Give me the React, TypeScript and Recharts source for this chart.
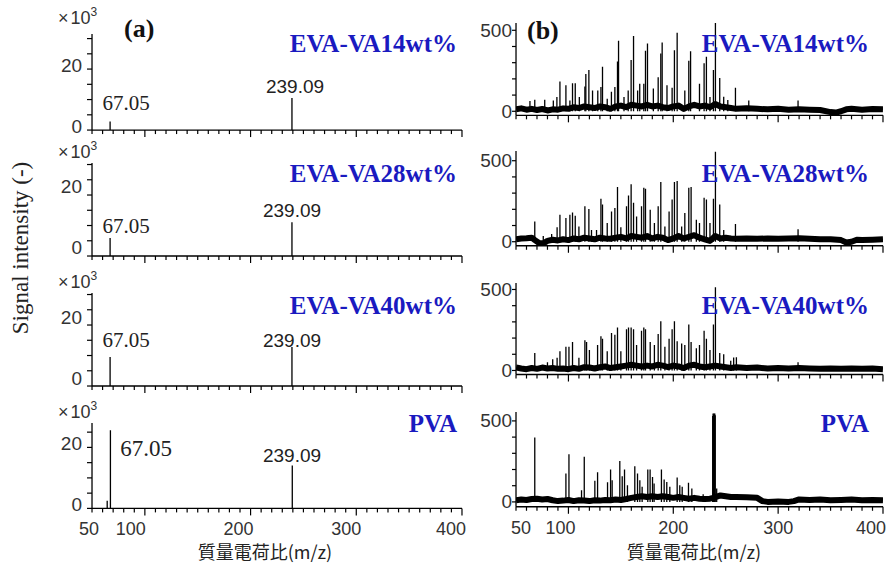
import React from 'react';
import { ComposedChart, Bar, Line, XAxis, YAxis } from 'recharts';

// ---------------- DATA ----------------
const xTicks = [50, 60, 70, 80, 90, 100, 110, 120, 130, 140, 150, 160, 170, 180, 190, 200, 210, 220, 230, 240, 250, 260, 270, 280, 290, 300, 310, 320, 330, 340, 350, 360, 370, 380, 390, 400];
const xLabelTicks = [50, 100, 200, 300, 400];
const aYTicks = [0, 5, 10, 15, 20, 25, 30];
const aYLabelTicks = [0, 20];
const bYTicks = [0, 100, 200, 300, 400, 500];
const bYLabelTicks = [0, 500];

const sampleNames = ['EVA-VA14wt%', 'EVA-VA28wt%', 'EVA-VA40wt%', 'PVA'];
const peakLabels = ['67.05', '239.09'];

// (a) intensities in 10^3
const aPeaksVA14: [number, number][] = [[67.05, 2.8], [239.09, 10.5]];
const aPeaksVA28: [number, number][] = [[67.05, 5.9], [239.09, 11.1]];
const aPeaksVA40: [number, number][] = [[67.05, 9.5], [239.09, 12.8]];
const aPeaksPVA: [number, number][] = [[64.0, 2.5], [67.05, 25.6], [239.09, 14.1]];

// (b) peaks (m/z, intensity)
const bPeaksVA14: [number, number][] = [
  [63.3, 63], [67.9, 71], [77.4, 71], [85.6, 67], [89.0, 88], [91.9, 184], [97.6, 160], [101.4, 67], [103.9, 173], [106.5, 173],
  [110.4, 88], [115.7, 153], [116.6, 230], [119.5, 255], [123.0, 128], [128.0, 128], [131.0, 150], [132.5, 275], [137.0, 78], [141.0, 120],
  [144.3, 150], [146.8, 308], [147.8, 435], [153.0, 88], [157.0, 128], [159.8, 316], [162.1, 465], [166.0, 128], [168.0, 170], [171.9, 170],
  [173.5, 373], [175.4, 418], [181.0, 140], [185.6, 210], [188.1, 357], [189.4, 424], [194.0, 160], [198.9, 145], [201.1, 377], [203.7, 485],
  [211.0, 128], [214.8, 312], [216.5, 370], [225.0, 170], [229.4, 296], [231.6, 337], [235.0, 88], [238.3, 255], [240.2, 550], [244.3, 206],
  [248.1, 90], [252.0, 70], [259.3, 145], [272.0, 67], [319.0, 67],
];
const bPeaksVA28: [number, number][] = [
  [67.9, 125], [76.0, 35], [84.0, 48], [89.2, 90], [91.9, 167], [97.6, 146], [101.4, 167], [103.9, 181], [106.5, 160], [110.0, 94],
  [115.7, 219], [119.5, 202], [122.0, 73], [126.8, 73], [131.0, 265], [132.5, 229], [137.0, 115], [141.1, 187], [144.3, 208], [146.8, 337],
  [150.0, 90], [155.4, 219], [157.3, 285], [159.8, 354], [162.1, 240], [165.0, 156], [169.7, 219], [171.9, 333], [173.5, 327], [178.0, 198],
  [182.0, 115], [185.6, 219], [188.1, 369], [192.0, 94], [196.0, 187], [198.9, 260], [201.1, 369], [203.7, 375], [208.0, 94], [211.0, 177],
  [214.8, 333], [217.0, 337], [222.0, 135], [225.0, 115], [229.4, 271], [231.6, 260], [235.0, 115], [238.3, 265], [240.2, 556], [244.3, 229],
  [248.1, 73], [259.3, 110], [319.0, 77],
];
const bPeaksVA40: [number, number][] = [
  [67.9, 108], [80.0, 50], [85.0, 70], [89.2, 78], [91.9, 118], [97.6, 147], [100.5, 147], [103.9, 176], [110.0, 78], [115.7, 186],
  [117.3, 176], [120.0, 127], [127.8, 157], [131.0, 212], [132.5, 196], [137.0, 118], [141.1, 231], [144.3, 220], [146.8, 265], [150.0, 118],
  [155.4, 255], [157.3, 265], [159.8, 265], [162.1, 255], [165.0, 157], [169.7, 245], [171.9, 265], [173.5, 255], [178.0, 176], [182.0, 157],
  [185.6, 225], [188.1, 304], [192.0, 147], [196.0, 196], [198.9, 255], [201.1, 304], [203.7, 180], [208.0, 167], [211.0, 157], [214.8, 284],
  [217.0, 176], [222.0, 137], [225.0, 157], [229.4, 245], [231.6, 196], [235.0, 127], [238.3, 284], [240.2, 514], [244.3, 108], [248.1, 100],
  [254.8, 60], [257.6, 80], [260.2, 82], [319.0, 50],
];
const bPeaksPVA: [number, number][] = [
  [67.9, 397], [97.6, 175], [100.5, 294], [112.5, 72], [115.1, 278], [125.2, 130], [127.8, 183], [137.3, 121], [140.2, 200], [141.7, 134],
  [149.0, 253], [151.3, 158], [153.5, 200], [156.3, 103], [163.3, 220], [165.9, 175], [168.1, 134], [170.3, 93], [175.7, 200], [177.9, 200],
  [180.2, 154], [181.7, 113], [188.7, 200], [191.3, 138], [193.8, 123], [196.7, 93], [203.7, 150], [206.2, 103], [208.5, 93], [214.5, 119],
  [217.7, 82], [228.5, 47], [237.6, 530], [238.0, 545], [238.4, 540], [238.8, 545], [239.2, 540], [239.6, 545], [240.0, 535], [241.4, 82],
  [320.0, 30],
];

// (b) noisy baseline band (m/z, level)
const bBaseVA14: [number, number][] = [
  [50, 12], [55, 18], [60, 10], [65, 15], [70, 8], [75, 14], [80, 5], [85, 12], [90, 10], [95, 18], [100, 15], [105, 25], [110, 20],
  [115, 30], [120, 25], [125, 20], [130, 30], [135, 25], [140, 15], [145, 30], [150, 35], [155, 25], [160, 40], [165, 35], [170, 30],
  [175, 40], [180, 30], [185, 35], [190, 25], [195, 20], [200, 30], [205, 35], [210, 15], [215, 30], [220, 40], [225, 30], [230, 35],
  [235, 25], [240, 45], [245, 30], [250, 25], [255, 20], [260, 15], [270, 18], [280, 15], [290, 12], [300, 15], [310, 10], [320, 12],
  [330, 10], [340, 8], [350, -5], [355, -8], [360, 0], [365, 12], [370, 15], [380, 10], [390, 14], [400, 12],
];
const bBaseVA28: [number, number][] = [
  [50, 15], [55, 20], [60, 22], [65, 25], [68, 10], [72, -8], [76, -10], [80, 5], [85, 12], [90, 8], [95, 15], [100, 10], [105, 20],
  [110, 15], [115, 25], [120, 20], [125, 15], [130, 25], [135, 20], [140, 18], [145, 25], [150, 30], [155, 20], [160, 35], [165, 30],
  [170, 25], [175, 35], [180, 20], [185, 30], [190, 25], [195, 10], [200, 20], [205, 35], [210, 20], [215, 30], [220, 40], [225, 25],
  [230, 15], [235, 5], [240, 35], [245, 20], [250, 25], [255, 20], [260, 18], [270, 20], [280, 18], [290, 20], [300, 18], [310, 20],
  [320, 22], [330, 18], [340, 15], [350, 15], [360, 10], [365, -5], [370, 0], [375, 12], [380, 10], [390, 12], [400, 15],
];
const bBaseVA40: [number, number][] = [
  [50, 18], [55, 12], [60, 8], [65, 15], [70, 10], [75, 18], [80, 12], [85, 15], [90, 10], [95, 12], [100, 8], [105, 15], [110, 10],
  [115, 20], [120, 18], [125, 12], [130, 20], [135, 25], [140, 15], [145, 20], [150, 25], [155, 30], [160, 35], [165, 30], [170, 25],
  [175, 30], [180, 25], [185, 35], [190, 30], [195, 20], [200, 30], [205, 25], [210, 15], [215, 30], [220, 35], [225, 25], [230, 20],
  [235, 25], [240, 30], [245, 25], [250, 20], [255, 15], [260, 20], [270, 15], [280, 18], [290, 12], [300, 15], [310, 12], [320, 15],
  [330, 12], [340, 10], [350, 12], [360, 10], [370, 12], [380, 10], [390, 12], [400, 8],
];
const bBasePVA: [number, number][] = [
  [50, 10], [55, 15], [60, 12], [65, 18], [70, 20], [75, 15], [80, 18], [85, 10], [90, 5], [95, 8], [100, 12], [105, 5], [110, 10],
  [115, 8], [120, 5], [125, 10], [130, 8], [135, 12], [140, 10], [145, 15], [150, 12], [155, 18], [160, 25], [165, 30], [170, 35],
  [175, 30], [180, 35], [185, 30], [190, 35], [195, 30], [200, 25], [205, 30], [210, 25], [215, 20], [220, 25], [225, 20], [230, 18],
  [235, 20], [238, 25], [245, 40], [250, 35], [255, 30], [260, 30], [270, 28], [280, 25], [285, 5], [290, 0], [300, 2], [310, 0],
  [315, 5], [320, 15], [330, 12], [340, 15], [350, 10], [360, 12], [370, 15], [380, 10], [390, 12], [400, 10],
];

const aPeaks = [aPeaksVA14, aPeaksVA28, aPeaksVA40, aPeaksPVA];
const bPeaks = [bPeaksVA14, bPeaksVA28, bPeaksVA40, bPeaksPVA];
const bBases = [bBaseVA14, bBaseVA28, bBaseVA40, bBasePVA];

// ---------------- LAYOUT / STYLE ----------------
const BLUE = '#1a1ac0';
const TICK_FONT = "'Liberation Sans', Arial, sans-serif";
const SERIF = "'Liberation Serif', 'Times New Roman', serif";
const CJK = "'Noto Sans CJK JP', sans-serif";

const LEFT = { plotLeft: 92, plotW: 370, pxPerUnit: 3.05 };
const RIGHT = { plotLeft: 516, plotW: 367, pxPerUnit: 0.162 };
const leftRows = [
  { bottom: 130, ymax: 31.5, dy: -4 },
  { bottom: 256, ymax: 30.5, dy: -9 },
  { bottom: 386, ymax: 30.5, dy: -8 },
  { bottom: 508, ymax: 28, dy: -4 },
];
const rightRows = [
  { bottom: 115, ymin: -25, ymax: 545 },
  { bottom: 246, ymin: -25, ymax: 560 },
  { bottom: 375, ymin: -25, ymax: 540 },
  { bottom: 507, ymin: -30, ymax: 555 },
];
const leftXLabelDx: Record<number, number> = { 50: -3, 100: -14, 200: -12, 300: -10, 400: -11 };
const rightXLabelDx: Record<number, number> = { 50: 5, 100: -8, 200: 0, 300: 0, 400: -12 };

const Stick = (props: any) => {
  const { x, y, width, height } = props;
  if (height == null || !isFinite(height) || !isFinite(y) || Math.abs(height) < 0.05) return null;
  const cx = x + width / 2;
  return <line x1={cx} x2={cx} y1={y} y2={y + height} stroke="#000" strokeWidth={1.3} />;
};

const makeXTick = (showLabels: boolean, dxMap: Record<number, number>) => (props: any) => {
  const { x, y, payload } = props;
  const v = payload.value as number;
  const major = v % 100 === 0;
  const len = major ? 7 : 4;
  return (
    <g>
      <line x1={x} x2={x} y1={y} y2={y + len} stroke="#000" strokeWidth={1.2} />
      {showLabels && xLabelTicks.includes(v) && (
        <text x={x + (dxMap[v] || 0)} y={y + 21} textAnchor="middle" dominantBaseline="central"
          fontFamily={TICK_FONT} fontSize={18} fill="#333">{v}</text>
      )}
    </g>
  );
};

const makeYTick = (labels: number[], dy: number, len: number, gap: number) => (props: any) => {
  const { x, y, payload } = props;
  const v = payload.value as number;
  return (
    <g>
      <line x1={x - len} x2={x} y1={y} y2={y} stroke="#000" strokeWidth={1.2} />
      {labels.includes(v) && (
        <text x={x - gap} y={y + dy} textAnchor="end" dominantBaseline="central"
          fontFamily={TICK_FONT} fontSize={19} fill="#333">{v}</text>
      )}
    </g>
  );
};

function buildRows(peaks: [number, number][], base?: [number, number][]) {
  const rows: any[] = peaks.map(([mz, h]) => ({ mz, h }));
  if (base) base.forEach(([mz, b]) => rows.push({ mz, base: b }));
  rows.sort((p, q) => p.mz - q.mz);
  return rows;
}

const Y_AXIS_W = 50;
const X_AXIS_H = 40;
const TOP_PAD = 12;

function Panel(props: {
  rows: any[]; plotLeft: number; plotW: number; bottom: number; ymin: number; ymax: number; pxPerUnit: number;
  yTicks: number[]; yLabels: number[]; yLabelDy: number; yTickLen: number; yGap: number;
  showX: boolean; xDx: Record<number, number>; withBase: boolean;
}) {
  const { rows, plotLeft, plotW, bottom, ymin, ymax, pxPerUnit } = props;
  const plotH = (ymax - ymin) * pxPerUnit;
  const top = bottom - plotH;
  const W = Y_AXIS_W + plotW + 12;
  const H = TOP_PAD + plotH + X_AXIS_H;
  return (
    <div style={{ position: 'absolute', left: plotLeft - Y_AXIS_W, top: top - TOP_PAD, width: W, height: H }}>
      <ComposedChart width={W} height={H} data={rows} margin={{ top: TOP_PAD, right: 12, bottom: 0, left: 0 }}>
        <XAxis dataKey="mz" type="number" domain={[50, 400]} allowDataOverflow ticks={xTicks} interval={0}
          tickSize={0} tickMargin={0} height={X_AXIS_H} axisLine={{ stroke: '#000', strokeWidth: 1.3 }} tickLine={false}
          tick={makeXTick(props.showX, props.xDx)} />
        <YAxis type="number" domain={[ymin, ymax]} allowDataOverflow ticks={props.yTicks.filter((t) => t <= ymax)} interval={0}
          tickSize={0} tickMargin={0} width={Y_AXIS_W} axisLine={{ stroke: '#000', strokeWidth: 1.3 }} tickLine={false}
          tick={makeYTick(props.yLabels, props.yLabelDy, props.yTickLen, props.yGap)} />
        {props.withBase && (
          <Line dataKey="base" type="linear" stroke="#000" strokeWidth={6} dot={false} connectNulls
            isAnimationActive={false} strokeLinejoin="round" />
        )}
        <Bar dataKey="h" barSize={2} shape={Stick} isAnimationActive={false} />
      </ComposedChart>
    </div>
  );
}

const titleY = [43, 173, 305, 423];
const xTenY = [18, 152, 282, 412];
const label67 = [
  { x: 126, y: 103, size: 21 },
  { x: 126, y: 226, size: 21 },
  { x: 126, y: 340, size: 21 },
  { x: 146, y: 448, size: 23 },
];
const label239 = [
  { x: 295, y: 86 },
  { x: 292, y: 210 },
  { x: 292, y: 340 },
  { x: 292, y: 455 },
];

export default function App() {
  return (
    <div style={{ position: 'fixed', left: 0, top: 0, width: 889, height: 567, background: '#fff', overflow: 'hidden' }}>
      {leftRows.map((r, i) => (
        <Panel key={'a' + i} rows={buildRows(aPeaks[i])} plotLeft={LEFT.plotLeft} plotW={LEFT.plotW} bottom={r.bottom}
          ymin={0} ymax={r.ymax} pxPerUnit={LEFT.pxPerUnit} yTicks={aYTicks} yLabels={aYLabelTicks} yLabelDy={r.dy}
          yTickLen={5} yGap={10} showX={i === 3} xDx={leftXLabelDx} withBase={false} />
      ))}
      {rightRows.map((r, i) => (
        <Panel key={'b' + i} rows={buildRows(bPeaks[i], bBases[i])} plotLeft={RIGHT.plotLeft} plotW={RIGHT.plotW} bottom={r.bottom}
          ymin={r.ymin} ymax={r.ymax} pxPerUnit={RIGHT.pxPerUnit} yTicks={bYTicks} yLabels={bYLabelTicks} yLabelDy={0}
          yTickLen={4} yGap={4} showX={i === 3} xDx={rightXLabelDx} withBase={true} />
      ))}
      <svg width={889} height={567} style={{ position: 'absolute', left: 0, top: 0, pointerEvents: 'none' }}>
        <text x={124} y={28} fontFamily={SERIF} fontWeight="bold" fontSize={26} dominantBaseline="central" fill="#111">(a)</text>
        <text x={527} y={30} fontFamily={SERIF} fontWeight="bold" fontSize={26} dominantBaseline="central" fill="#111">(b)</text>
        {sampleNames.map((n, i) => (
          <g key={'t' + i}>
            <text x={457} y={titleY[i]} textAnchor="end" dominantBaseline="central" fontFamily={SERIF} fontWeight="bold" fontSize={25} fill={BLUE}>{n}</text>
            <text x={869} y={titleY[i]} textAnchor="end" dominantBaseline="central" fontFamily={SERIF} fontWeight="bold" fontSize={25} fill={BLUE}>{n}</text>
            <text x={58} y={xTenY[i]} dominantBaseline="central" fontFamily={TICK_FONT} fontSize={18} fill="#333">
              <tspan>×</tspan><tspan dx={2}>10</tspan><tspan dy={-6} fontSize={12}>3</tspan>
            </text>
            <text x={label67[i].x} y={label67[i].y} textAnchor="middle" dominantBaseline="central" fontFamily={SERIF} fontSize={label67[i].size} fill="#222">{peakLabels[0]}</text>
            <text x={label239[i].x} y={label239[i].y} textAnchor="middle" dominantBaseline="central" fontFamily={TICK_FONT} fontSize={19} fill="#222">{peakLabels[1]}</text>
          </g>
        ))}
        <text x={20} y={248} transform="rotate(-90 20 248)" textAnchor="middle" dominantBaseline="central" fontFamily={SERIF} fontSize={23} fill="#222">Signal intensity (-)</text>
        <text x={265} y={551} textAnchor="middle" dominantBaseline="central" fontFamily={CJK} fontSize={18} fill="#222">質量電荷比(m/z)</text>
        <text x={694} y={551} textAnchor="middle" dominantBaseline="central" fontFamily={CJK} fontSize={18} fill="#222">質量電荷比(m/z)</text>
      </svg>
    </div>
  );
}
